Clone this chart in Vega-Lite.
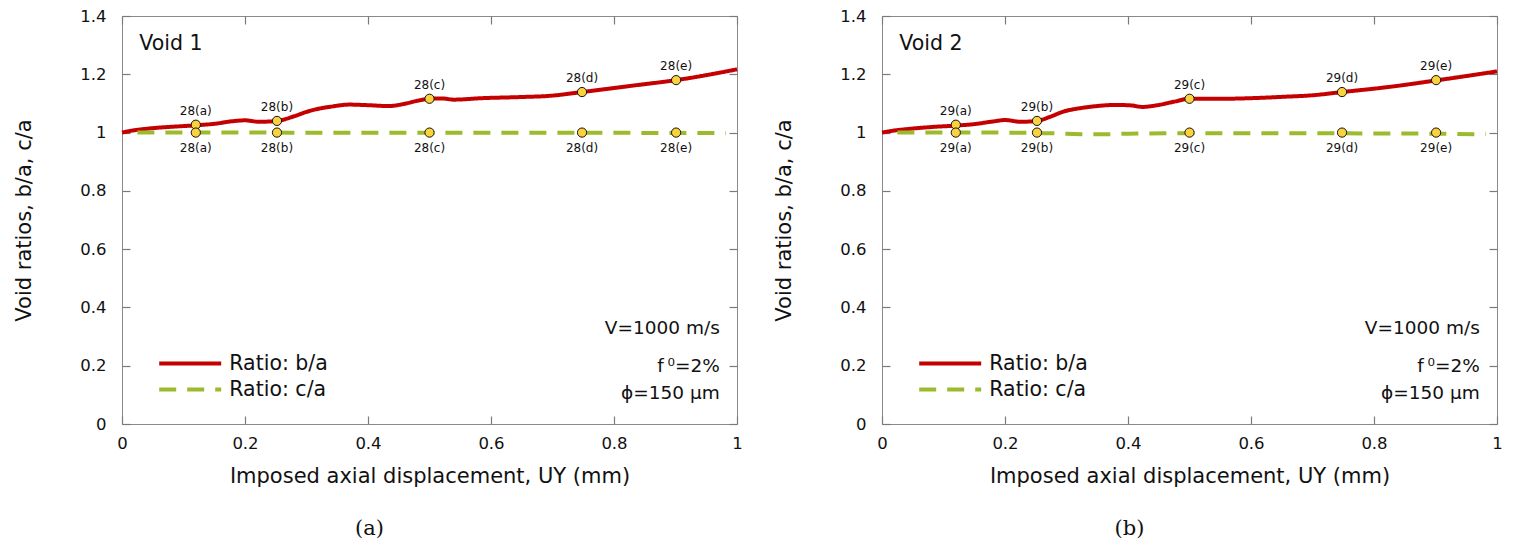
{
  "$schema": "https://vega.github.io/schema/vega-lite/v6.json",
  "padding": {"left": 13, "top": 7, "right": 5, "bottom": 5},
  "background": "white",
  "config": {
    "font": "DejaVu Sans",
    "view": {"stroke": "#8a8a8a", "strokeWidth": 1},
    "axis": {
      "grid": false,
      "domain": false,
      "ticks": true,
      "offset": -8,
      "zindex": 2,
      "labelFlush": false,
      "tickColor": "#7a7a7a",
      "tickSize": 8,
      "tickWidth": 1.2,
      "labelFont": "DejaVu Sans",
      "labelFontSize": 16.5,
      "labelColor": "#111111",
      "titleFont": "DejaVu Sans",
      "titleFontSize": 21,
      "titleFontWeight": "normal",
      "titleColor": "#111111"
    },
    "legend": {
      "orient": "bottom-left",
      "offset": 24,
      "title": null,
      "symbolType": "M-3,0H3",
      "symbolSize": 427,
      "symbolStrokeWidth": 4,
      "symbolOffset": 31.7,
      "labelFont": "DejaVu Sans",
      "labelFontSize": 20.5,
      "labelColor": "#111111",
      "labelOffset": 26.6,
      "rowPadding": 3
    }
  },
  "datasets": {
    "curves": [
      {"panel": "a", "series": "Ratio: b/a", "x": 0, "y": 1.0},
      {"panel": "a", "series": "Ratio: b/a", "x": 0.02, "y": 1.008},
      {"panel": "a", "series": "Ratio: b/a", "x": 0.04, "y": 1.013},
      {"panel": "a", "series": "Ratio: b/a", "x": 0.06, "y": 1.017},
      {"panel": "a", "series": "Ratio: b/a", "x": 0.09, "y": 1.021},
      {"panel": "a", "series": "Ratio: b/a", "x": 0.12, "y": 1.025},
      {"panel": "a", "series": "Ratio: b/a", "x": 0.15, "y": 1.03},
      {"panel": "a", "series": "Ratio: b/a", "x": 0.18, "y": 1.039},
      {"panel": "a", "series": "Ratio: b/a", "x": 0.2, "y": 1.042},
      {"panel": "a", "series": "Ratio: b/a", "x": 0.223, "y": 1.037},
      {"panel": "a", "series": "Ratio: b/a", "x": 0.252, "y": 1.04},
      {"panel": "a", "series": "Ratio: b/a", "x": 0.28, "y": 1.056},
      {"panel": "a", "series": "Ratio: b/a", "x": 0.3, "y": 1.071},
      {"panel": "a", "series": "Ratio: b/a", "x": 0.32, "y": 1.082},
      {"panel": "a", "series": "Ratio: b/a", "x": 0.34, "y": 1.089},
      {"panel": "a", "series": "Ratio: b/a", "x": 0.369, "y": 1.096},
      {"panel": "a", "series": "Ratio: b/a", "x": 0.4, "y": 1.094},
      {"panel": "a", "series": "Ratio: b/a", "x": 0.434, "y": 1.091},
      {"panel": "a", "series": "Ratio: b/a", "x": 0.46, "y": 1.099},
      {"panel": "a", "series": "Ratio: b/a", "x": 0.48, "y": 1.109},
      {"panel": "a", "series": "Ratio: b/a", "x": 0.5, "y": 1.116},
      {"panel": "a", "series": "Ratio: b/a", "x": 0.52, "y": 1.117},
      {"panel": "a", "series": "Ratio: b/a", "x": 0.54, "y": 1.113},
      {"panel": "a", "series": "Ratio: b/a", "x": 0.585, "y": 1.118},
      {"panel": "a", "series": "Ratio: b/a", "x": 0.65, "y": 1.122},
      {"panel": "a", "series": "Ratio: b/a", "x": 0.695, "y": 1.126},
      {"panel": "a", "series": "Ratio: b/a", "x": 0.748, "y": 1.139},
      {"panel": "a", "series": "Ratio: b/a", "x": 0.83, "y": 1.161},
      {"panel": "a", "series": "Ratio: b/a", "x": 0.901, "y": 1.18},
      {"panel": "a", "series": "Ratio: b/a", "x": 0.95, "y": 1.197},
      {"panel": "a", "series": "Ratio: b/a", "x": 1.0, "y": 1.217},
      {"panel": "a", "series": "Ratio: c/a", "x": 0.025, "y": 1.0},
      {"panel": "a", "series": "Ratio: c/a", "x": 0.2, "y": 1.0},
      {"panel": "a", "series": "Ratio: c/a", "x": 0.4, "y": 0.999},
      {"panel": "a", "series": "Ratio: c/a", "x": 0.6, "y": 0.999},
      {"panel": "a", "series": "Ratio: c/a", "x": 0.8, "y": 0.999},
      {"panel": "a", "series": "Ratio: c/a", "x": 0.982, "y": 0.998},
      {"panel": "b", "series": "Ratio: b/a", "x": 0, "y": 1.0},
      {"panel": "b", "series": "Ratio: b/a", "x": 0.02, "y": 1.007},
      {"panel": "b", "series": "Ratio: b/a", "x": 0.046, "y": 1.013},
      {"panel": "b", "series": "Ratio: b/a", "x": 0.08, "y": 1.019},
      {"panel": "b", "series": "Ratio: b/a", "x": 0.12, "y": 1.024},
      {"panel": "b", "series": "Ratio: b/a", "x": 0.15, "y": 1.029},
      {"panel": "b", "series": "Ratio: b/a", "x": 0.18, "y": 1.038},
      {"panel": "b", "series": "Ratio: b/a", "x": 0.2, "y": 1.043},
      {"panel": "b", "series": "Ratio: b/a", "x": 0.226, "y": 1.037},
      {"panel": "b", "series": "Ratio: b/a", "x": 0.252, "y": 1.04},
      {"panel": "b", "series": "Ratio: b/a", "x": 0.272, "y": 1.053},
      {"panel": "b", "series": "Ratio: b/a", "x": 0.295, "y": 1.072},
      {"panel": "b", "series": "Ratio: b/a", "x": 0.32, "y": 1.083},
      {"panel": "b", "series": "Ratio: b/a", "x": 0.337, "y": 1.088},
      {"panel": "b", "series": "Ratio: b/a", "x": 0.36, "y": 1.093},
      {"panel": "b", "series": "Ratio: b/a", "x": 0.378, "y": 1.095},
      {"panel": "b", "series": "Ratio: b/a", "x": 0.406, "y": 1.093},
      {"panel": "b", "series": "Ratio: b/a", "x": 0.423, "y": 1.088},
      {"panel": "b", "series": "Ratio: b/a", "x": 0.448, "y": 1.094},
      {"panel": "b", "series": "Ratio: b/a", "x": 0.475, "y": 1.106},
      {"panel": "b", "series": "Ratio: b/a", "x": 0.5, "y": 1.116},
      {"panel": "b", "series": "Ratio: b/a", "x": 0.552, "y": 1.116},
      {"panel": "b", "series": "Ratio: b/a", "x": 0.6, "y": 1.118},
      {"panel": "b", "series": "Ratio: b/a", "x": 0.655, "y": 1.123},
      {"panel": "b", "series": "Ratio: b/a", "x": 0.7, "y": 1.128},
      {"panel": "b", "series": "Ratio: b/a", "x": 0.748, "y": 1.139},
      {"panel": "b", "series": "Ratio: b/a", "x": 0.83, "y": 1.158},
      {"panel": "b", "series": "Ratio: b/a", "x": 0.901, "y": 1.179},
      {"panel": "b", "series": "Ratio: b/a", "x": 0.95, "y": 1.194},
      {"panel": "b", "series": "Ratio: b/a", "x": 1.0, "y": 1.21},
      {"panel": "b", "series": "Ratio: c/a", "x": 0.025, "y": 1.0},
      {"panel": "b", "series": "Ratio: c/a", "x": 0.15, "y": 1.0},
      {"panel": "b", "series": "Ratio: c/a", "x": 0.25, "y": 0.999},
      {"panel": "b", "series": "Ratio: c/a", "x": 0.3, "y": 0.996},
      {"panel": "b", "series": "Ratio: c/a", "x": 0.35, "y": 0.994},
      {"panel": "b", "series": "Ratio: c/a", "x": 0.4, "y": 0.996},
      {"panel": "b", "series": "Ratio: c/a", "x": 0.5, "y": 0.998},
      {"panel": "b", "series": "Ratio: c/a", "x": 0.6, "y": 0.998},
      {"panel": "b", "series": "Ratio: c/a", "x": 0.7, "y": 0.998},
      {"panel": "b", "series": "Ratio: c/a", "x": 0.8, "y": 0.997},
      {"panel": "b", "series": "Ratio: c/a", "x": 0.9, "y": 0.996},
      {"panel": "b", "series": "Ratio: c/a", "x": 0.982, "y": 0.994}
    ],
    "markers": [
      {"panel": "a", "x": 0.12, "y": 1.027, "label": "28(a)", "side": "above"},
      {"panel": "a", "x": 0.12, "y": 1.0, "label": "28(a)", "side": "below"},
      {"panel": "a", "x": 0.252, "y": 1.04, "label": "28(b)", "side": "above"},
      {"panel": "a", "x": 0.252, "y": 1.0, "label": "28(b)", "side": "below"},
      {"panel": "a", "x": 0.5, "y": 1.116, "label": "28(c)", "side": "above"},
      {"panel": "a", "x": 0.5, "y": 1.0, "label": "28(c)", "side": "below"},
      {"panel": "a", "x": 0.748, "y": 1.139, "label": "28(d)", "side": "above"},
      {"panel": "a", "x": 0.748, "y": 1.0, "label": "28(d)", "side": "below"},
      {"panel": "a", "x": 0.901, "y": 1.18, "label": "28(e)", "side": "above"},
      {"panel": "a", "x": 0.901, "y": 1.0, "label": "28(e)", "side": "below"},
      {"panel": "b", "x": 0.12, "y": 1.027, "label": "29(a)", "side": "above"},
      {"panel": "b", "x": 0.12, "y": 1.0, "label": "29(a)", "side": "below"},
      {"panel": "b", "x": 0.252, "y": 1.04, "label": "29(b)", "side": "above"},
      {"panel": "b", "x": 0.252, "y": 1.0, "label": "29(b)", "side": "below"},
      {"panel": "b", "x": 0.5, "y": 1.116, "label": "29(c)", "side": "above"},
      {"panel": "b", "x": 0.5, "y": 1.0, "label": "29(c)", "side": "below"},
      {"panel": "b", "x": 0.748, "y": 1.139, "label": "29(d)", "side": "above"},
      {"panel": "b", "x": 0.748, "y": 1.0, "label": "29(d)", "side": "below"},
      {"panel": "b", "x": 0.901, "y": 1.18, "label": "29(e)", "side": "above"},
      {"panel": "b", "x": 0.901, "y": 1.0, "label": "29(e)", "side": "below"}
    ],
    "notes": [
      {"panel": "a", "role": "title", "x": 0.028, "y": 1.283, "text": "Void 1"},
      {"panel": "a", "role": "note", "x": 0.972, "y": 0.309, "text": "V=1000 m/s"},
      {"panel": "a", "role": "note", "x": 0.972, "y": 0.178, "text": "f\u2009⁰=2%"},
      {"panel": "a", "role": "note", "x": 0.972, "y": 0.086, "text": "ϕ=150 μm"},
      {"panel": "b", "role": "title", "x": 0.028, "y": 1.283, "text": "Void 2"},
      {"panel": "b", "role": "note", "x": 0.972, "y": 0.309, "text": "V=1000 m/s"},
      {"panel": "b", "role": "note", "x": 0.972, "y": 0.178, "text": "f\u2009⁰=2%"},
      {"panel": "b", "role": "note", "x": 0.972, "y": 0.086, "text": "ϕ=150 μm"}
    ]
  },
  "bounds": "flush",
  "spacing": 145,
  "resolve": {
    "scale": {"color": "independent", "strokeDash": "independent"},
    "legend": {"color": "independent", "strokeDash": "independent"}
  },
  "hconcat": [
    {
      "width": 615,
      "height": 408,
      "title": {"text": "(a)", "orient": "bottom", "font": "DejaVu Serif", "fontSize": 21, "fontWeight": "normal", "color": "#111111", "dx": -60, "offset": 31},
      "layer": [
        {
          "data": {"name": "curves"},
          "transform": [{"filter": "datum.panel == 'a'"}],
          "mark": {"type": "line", "strokeWidth": 4, "interpolate": "monotone"},
          "encoding": {
            "x": {"field": "x", "type": "quantitative", "scale": {"domain": [0, 1], "nice": false},
                  "axis": {"orient": "bottom", "values": [0, 0.2, 0.4, 0.6, 0.8, 1], "format": "~g", "title": "Imposed axial displacement, UY (mm)", "labelPadding": 11, "titlePadding": 14}},
            "y": {"field": "y", "type": "quantitative", "scale": {"domain": [0, 1.4], "nice": false},
                  "axis": {"orient": "left", "values": [0, 0.2, 0.4, 0.6, 0.8, 1, 1.2, 1.4], "format": "~g", "title": "Void ratios, b/a, c/a", "labelPadding": 16, "titlePadding": 45}},
            "color": {"field": "series", "type": "nominal", "scale": {"domain": ["Ratio: b/a", "Ratio: c/a"], "range": ["#C40000", "#9BBB2D"]}, "legend": {"title": null}},
            "strokeDash": {"field": "series", "type": "nominal", "scale": {"domain": ["Ratio: b/a", "Ratio: c/a"], "range": [[1, 0], [17, 11]]}, "legend": {"title": null}}
          }
        },
        {
          "data": {"name": "markers"},
          "transform": [{"filter": "datum.panel == 'a'"}],
          "mark": {"type": "point", "filled": true, "fill": "#FBD23E", "stroke": "#111111", "strokeWidth": 1, "size": 85, "opacity": 1, "shape": "circle"},
          "encoding": {
            "x": {"field": "x", "type": "quantitative", "axis": null},
            "y": {"field": "y", "type": "quantitative", "axis": null}
          }
        },
        {
          "data": {"name": "markers"},
          "transform": [{"filter": "datum.panel == 'a' && datum.side == 'above'"}],
          "mark": {"type": "text", "fontSize": 12, "color": "#111111", "baseline": "middle", "dy": -14},
          "encoding": {
            "x": {"field": "x", "type": "quantitative", "axis": null},
            "y": {"field": "y", "type": "quantitative", "axis": null},
            "text": {"field": "label"}
          }
        },
        {
          "data": {"name": "markers"},
          "transform": [{"filter": "datum.panel == 'a' && datum.side == 'below'"}],
          "mark": {"type": "text", "fontSize": 12, "color": "#111111", "baseline": "middle", "dy": 15},
          "encoding": {
            "x": {"field": "x", "type": "quantitative", "axis": null},
            "y": {"field": "y", "type": "quantitative", "axis": null},
            "text": {"field": "label"}
          }
        },
        {
          "data": {"name": "notes"},
          "transform": [{"filter": "datum.panel == 'a' && datum.role == 'title'"}],
          "mark": {"type": "text", "fontSize": 20.5, "color": "#111111", "align": "left", "baseline": "alphabetic"},
          "encoding": {
            "x": {"field": "x", "type": "quantitative", "axis": null},
            "y": {"field": "y", "type": "quantitative", "axis": null},
            "text": {"field": "text"}
          }
        },
        {
          "data": {"name": "notes"},
          "transform": [{"filter": "datum.panel == 'a' && datum.role == 'note'"}],
          "mark": {"type": "text", "fontSize": 18.5, "color": "#111111", "align": "right", "baseline": "alphabetic"},
          "encoding": {
            "x": {"field": "x", "type": "quantitative",
                  "axis": {"orient": "top", "values": [0, 0.2, 0.4, 0.6, 0.8, 1], "labels": false, "title": null}},
            "y": {"field": "y", "type": "quantitative",
                  "axis": {"orient": "right", "values": [0, 0.2, 0.4, 0.6, 0.8, 1, 1.2, 1.4], "labels": false, "title": null}},
            "text": {"field": "text"}
          }
        }
      ]
    },
    {
      "width": 615,
      "height": 408,
      "title": {"text": "(b)", "orient": "bottom", "font": "DejaVu Serif", "fontSize": 21, "fontWeight": "normal", "color": "#111111", "dx": -60, "offset": 31},
      "layer": [
        {
          "data": {"name": "curves"},
          "transform": [{"filter": "datum.panel == 'b'"}],
          "mark": {"type": "line", "strokeWidth": 4, "interpolate": "monotone"},
          "encoding": {
            "x": {"field": "x", "type": "quantitative", "scale": {"domain": [0, 1], "nice": false},
                  "axis": {"orient": "bottom", "values": [0, 0.2, 0.4, 0.6, 0.8, 1], "format": "~g", "title": "Imposed axial displacement, UY (mm)", "labelPadding": 11, "titlePadding": 14}},
            "y": {"field": "y", "type": "quantitative", "scale": {"domain": [0, 1.4], "nice": false},
                  "axis": {"orient": "left", "values": [0, 0.2, 0.4, 0.6, 0.8, 1, 1.2, 1.4], "format": "~g", "title": "Void ratios, b/a, c/a", "labelPadding": 16, "titlePadding": 45}},
            "color": {"field": "series", "type": "nominal", "scale": {"domain": ["Ratio: b/a", "Ratio: c/a"], "range": ["#C40000", "#9BBB2D"]}, "legend": {"title": null}},
            "strokeDash": {"field": "series", "type": "nominal", "scale": {"domain": ["Ratio: b/a", "Ratio: c/a"], "range": [[1, 0], [17, 11]]}, "legend": {"title": null}}
          }
        },
        {
          "data": {"name": "markers"},
          "transform": [{"filter": "datum.panel == 'b'"}],
          "mark": {"type": "point", "filled": true, "fill": "#FBD23E", "stroke": "#111111", "strokeWidth": 1, "size": 85, "opacity": 1, "shape": "circle"},
          "encoding": {
            "x": {"field": "x", "type": "quantitative", "axis": null},
            "y": {"field": "y", "type": "quantitative", "axis": null}
          }
        },
        {
          "data": {"name": "markers"},
          "transform": [{"filter": "datum.panel == 'b' && datum.side == 'above'"}],
          "mark": {"type": "text", "fontSize": 12, "color": "#111111", "baseline": "middle", "dy": -14},
          "encoding": {
            "x": {"field": "x", "type": "quantitative", "axis": null},
            "y": {"field": "y", "type": "quantitative", "axis": null},
            "text": {"field": "label"}
          }
        },
        {
          "data": {"name": "markers"},
          "transform": [{"filter": "datum.panel == 'b' && datum.side == 'below'"}],
          "mark": {"type": "text", "fontSize": 12, "color": "#111111", "baseline": "middle", "dy": 15},
          "encoding": {
            "x": {"field": "x", "type": "quantitative", "axis": null},
            "y": {"field": "y", "type": "quantitative", "axis": null},
            "text": {"field": "label"}
          }
        },
        {
          "data": {"name": "notes"},
          "transform": [{"filter": "datum.panel == 'b' && datum.role == 'title'"}],
          "mark": {"type": "text", "fontSize": 20.5, "color": "#111111", "align": "left", "baseline": "alphabetic"},
          "encoding": {
            "x": {"field": "x", "type": "quantitative", "axis": null},
            "y": {"field": "y", "type": "quantitative", "axis": null},
            "text": {"field": "text"}
          }
        },
        {
          "data": {"name": "notes"},
          "transform": [{"filter": "datum.panel == 'b' && datum.role == 'note'"}],
          "mark": {"type": "text", "fontSize": 18.5, "color": "#111111", "align": "right", "baseline": "alphabetic"},
          "encoding": {
            "x": {"field": "x", "type": "quantitative",
                  "axis": {"orient": "top", "values": [0, 0.2, 0.4, 0.6, 0.8, 1], "labels": false, "title": null}},
            "y": {"field": "y", "type": "quantitative",
                  "axis": {"orient": "right", "values": [0, 0.2, 0.4, 0.6, 0.8, 1, 1.2, 1.4], "labels": false, "title": null}},
            "text": {"field": "text"}
          }
        }
      ]
    }
  ]
}
